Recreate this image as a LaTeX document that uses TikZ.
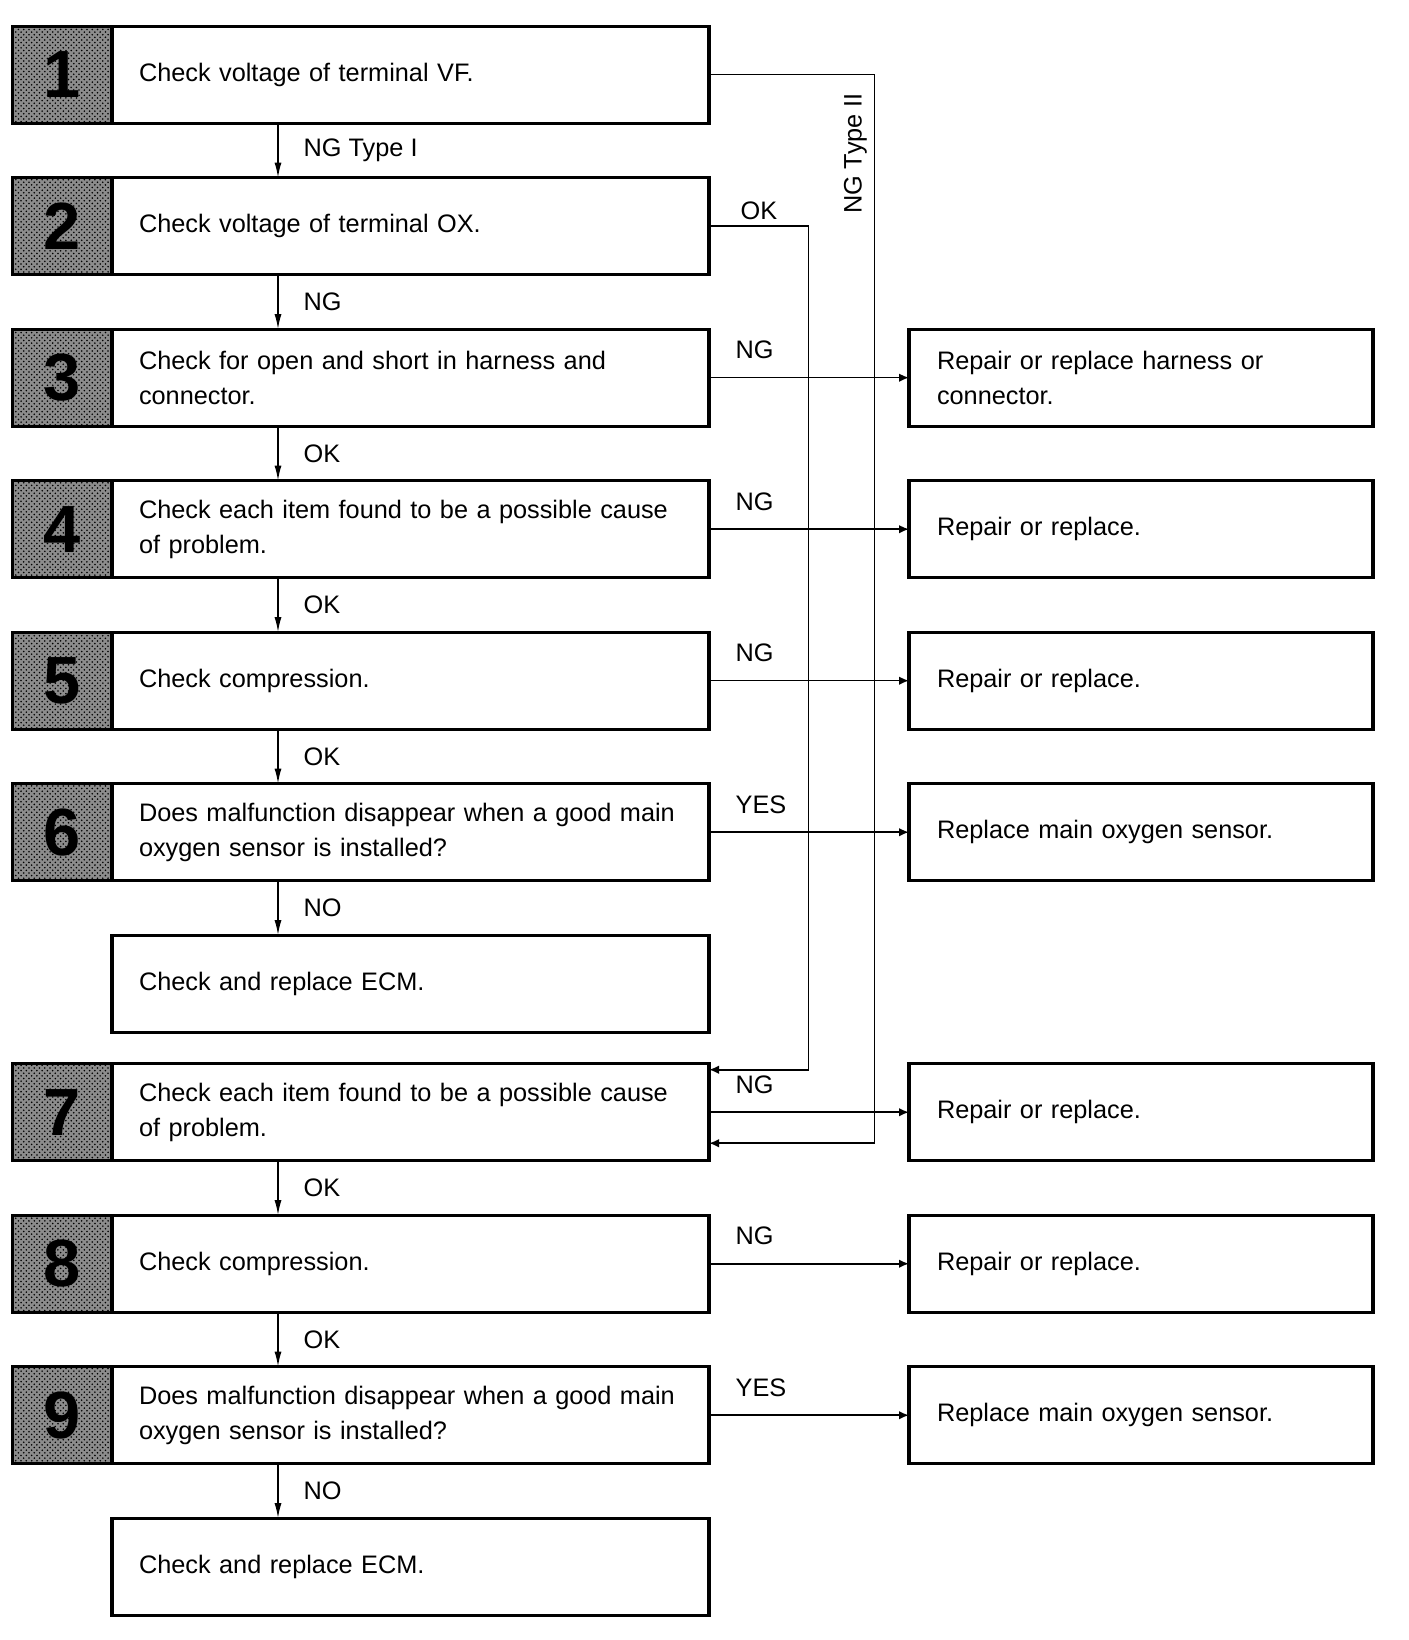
\documentclass[tikz,border=0pt]{standalone}
\usepackage{fontspec}
\setmainfont{Liberation Sans}
\usetikzlibrary{positioning, arrows.meta, patterns}

\begin{document}
\begin{tikzpicture}[
        node distance=1.09cm,
        stepbox/.style={rectangle, draw, line width=1.8pt, outer sep=0pt, minimum width=11.94cm, minimum height=1.94cm, inner xsep=0.54cm, text width=10.86cm, align=left, font=\fontsize{14.4}{20}\selectfont},
        numbox/.style={rectangle, draw, line width=1.8pt, outer sep=0pt, preaction={fill=black!45}, pattern=crosshatch dots, pattern color=black, minimum width=1.99cm, minimum height=1.94cm, inner sep=0pt, font=\fontsize{38}{38}\selectfont\bfseries},
        fixbox/.style={rectangle, draw, line width=1.8pt, outer sep=0pt, minimum width=9.28cm, minimum height=1.94cm, inner xsep=0.56cm, text width=8.16cm, align=left, font=\fontsize{14.4}{20}\selectfont},
        arrow/.style={-{Latex[length=3mm,width=1.4mm]}, line width=0.9pt},
        tip/.style={-{Latex[length=2mm,width=1.7mm]}, line width=0.9pt},
        lbl/.style={font=\fontsize{14.4}{17}\selectfont}
    ]
        \useasboundingbox (0,0) rectangle (28.16,-32.8);

        % Check steps
        \node[stepbox, anchor=north west] (s1) at (2.24,-0.524) {Check voltage of terminal VF.};
        \node[stepbox, below=of s1] (s2) {Check voltage of terminal OX.};
        \node[stepbox, below=of s2] (s3) {Check for open and short in harness and\\connector.};
        \node[stepbox, below=of s3] (s4) {Check each item found to be a possible cause\\of problem.};
        \node[stepbox, below=of s4] (s5) {Check compression.};
        \node[stepbox, below=of s5] (s6) {Does malfunction disappear when a good main\\oxygen sensor is installed?};
        \node[stepbox, below=of s6] (ecm6) {Check and replace ECM.};
        \node[stepbox, below=0.63cm of ecm6] (s7) {Check each item found to be a possible cause\\of problem.};
        \node[stepbox, below=of s7] (s8) {Check compression.};
        \node[stepbox, below=of s8] (s9) {Does malfunction disappear when a good main\\oxygen sensor is installed?};
        \node[stepbox, below=of s9] (ecm9) {Check and replace ECM.};

        % Step numbers
        \foreach \n in {1,...,9}
            \node[numbox, left=0pt of s\n] (n\n) {\n};

        % Repairs
        \node[fixbox, right=4cm of s3] (r3) {Repair or replace harness or\\connector.};
        \node[fixbox, right=4cm of s4] (r4) {Repair or replace.};
        \node[fixbox, right=4cm of s5] (r5) {Repair or replace.};
        \node[fixbox, right=4cm of s6] (r6) {Replace main oxygen sensor.};
        \node[fixbox, right=4cm of s7] (r7) {Repair or replace.};
        \node[fixbox, right=4cm of s8] (r8) {Repair or replace.};
        \node[fixbox, right=4cm of s9] (r9) {Replace main oxygen sensor.};

        \coordinate (dn) at (5.56,0);
        \coordinate (okbus) at (16.17,0);
        \coordinate (twobus) at (17.49,0);

        % Down the chain
        \draw[arrow] (s1.south -| dn) -- node[lbl, right=0.38cm] (d1) {NG Type I} (s2.north -| dn);
        \draw[arrow] (s2.south -| dn) -- node[lbl, right=0.38cm] (d2) {NG} (s3.north -| dn);
        \draw[arrow] (s3.south -| dn) -- node[lbl, right=0.38cm] (d3) {OK} (s4.north -| dn);
        \draw[arrow] (s4.south -| dn) -- node[lbl, right=0.38cm] (d4) {OK} (s5.north -| dn);
        \draw[arrow] (s5.south -| dn) -- node[lbl, right=0.38cm] (d5) {OK} (s6.north -| dn);
        \draw[arrow] (s6.south -| dn) -- node[lbl, right=0.38cm] (d6) {NO} (ecm6.north -| dn);
        \draw[arrow] (s7.south -| dn) -- node[lbl, right=0.38cm] (d7) {OK} (s8.north -| dn);
        \draw[arrow] (s8.south -| dn) -- node[lbl, right=0.38cm] (d8) {OK} (s9.north -| dn);
        \draw[arrow] (s9.south -| dn) -- node[lbl, right=0.38cm] (d9) {NO} (ecm9.north -| dn);

        % Side branches
        \draw[tip] (s1.east) -- (s1.east -| twobus) |- ([yshift=0.35cm]s7.south east);
        \node[lbl, rotate=90, anchor=south] (t2) at (17.46,-3.07) {NG Type II};
        \draw[tip] (s2.east) -- node[lbl, pos=0, anchor=base west, xshift=0.5cm, yshift=0.13cm] (k2) {OK} (s2.east -| okbus) |- ([yshift=-0.12cm]s7.north east);

        \draw[tip] (s3.east) -- node[lbl, pos=0, anchor=base west, xshift=0.4cm, yshift=0.38cm] (k3) {NG} (r3.west);
        \draw[tip] (s4.east) -- node[lbl, pos=0, anchor=base west, xshift=0.4cm, yshift=0.38cm] (k4) {NG} (r4.west);
        \draw[tip] (s5.east) -- node[lbl, pos=0, anchor=base west, xshift=0.4cm, yshift=0.38cm] (k5) {NG} (r5.west);
        \draw[tip] (s6.east) -- node[lbl, pos=0, anchor=base west, xshift=0.4cm, yshift=0.38cm] (k6) {YES} (r6.west);
        \draw[tip] (s7.east) -- node[lbl, pos=0, anchor=base west, xshift=0.4cm, yshift=0.38cm] (k7) {NG} (r7.west);
        \draw[tip] (s8.east) -- node[lbl, pos=0, anchor=base west, xshift=0.4cm, yshift=0.38cm] (k8) {NG} (r8.west);
        \draw[tip] (s9.east) -- node[lbl, pos=0, anchor=base west, xshift=0.4cm, yshift=0.38cm] (k9) {YES} (r9.west);
    \end{tikzpicture}
\end{document}
